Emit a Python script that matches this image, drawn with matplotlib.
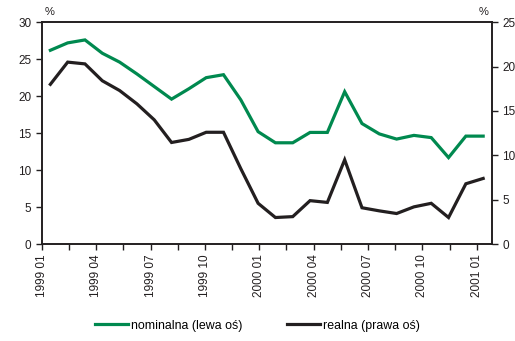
import matplotlib
matplotlib.use("Agg")
from matplotlib import pyplot as plt
import numpy as np

plt.rcParams["font.family"] = ["Liberation Sans", "DejaVu Sans"]

# monthly data, 1999 01 - 2001 02
nominalna = [26.2, 27.2, 27.6, 25.8, 24.6, 23.0, 21.3, 19.6, 21.0, 22.5, 22.9,
             19.5, 15.2, 13.7, 13.7, 15.1, 15.1, 20.6, 16.3, 14.9, 14.2, 14.7,
             14.4, 11.7, 14.6, 14.6]
realna = [18.0, 20.5, 20.3, 18.4, 17.3, 15.8, 14.0, 11.45, 11.8, 12.6, 12.6,
          8.5, 4.6, 3.0, 3.1, 4.9, 4.7, 9.5, 4.1, 3.75, 3.45, 4.2,
          4.6, 3.0, 6.8, 7.4]
tick_labels = ["1999 01", "1999 04", "1999 07", "1999 10", "2000 01",
               "2000 04", "2000 07", "2000 10", "2001 01"]

green = "#00894f"
black = "#231f20"

fig = plt.figure(figsize=(5.15, 3.41), dpi=100)
ax1 = fig.add_axes([0.081, 0.284, 0.874, 0.651])
ax2 = ax1.twinx()

x = np.arange(len(nominalna))
ax1.plot(x, nominalna, color=green, lw=2.3, solid_joinstyle="miter")
ax2.plot(x, realna, color=black, lw=2.3, solid_joinstyle="miter")

ax1.set_xlim(-0.5, len(x) - 0.5)
ax1.set_ylim(0, 30)
ax2.set_ylim(0, 25)
ax1.set_yticks(range(0, 31, 5))
ax2.set_yticks(range(0, 26, 5))

# tick marks every 1.5 months, labels every quarter
xt = -0.5 + np.arange(17) * 1.571
ax1.set_xticks(xt)
ax1.set_xticklabels([tick_labels[i // 2] if i % 2 == 0 else "" for i in range(17)],
                    rotation=90, fontsize=8.5)

for ax in (ax1, ax2):
    for s in ax.spines.values():
        s.set_linewidth(1.2)
        s.set_color(black)
    ax.tick_params(direction="out", length=4.5, width=1.0, labelsize=8.5,
                   colors=black, pad=3)

fig.text(0.097, 0.955, "%", fontsize=8, color=black, ha="center")
fig.text(0.938, 0.955, "%", fontsize=8, color=black, ha="center")

h1, = ax1.plot([], [], color=green, lw=2.3)
h2, = ax1.plot([], [], color=black, lw=2.3)
fig.legend([h1, h2], ["nominalna (lewa oś)", "realna (prawa oś)"],
           loc="lower center", bbox_to_anchor=(0.5, -0.005), ncol=2, frameon=False,
           fontsize=8.9, handlelength=2.65, handletextpad=0.25, columnspacing=3.6)

fig.savefig("out.png", dpi=100)
